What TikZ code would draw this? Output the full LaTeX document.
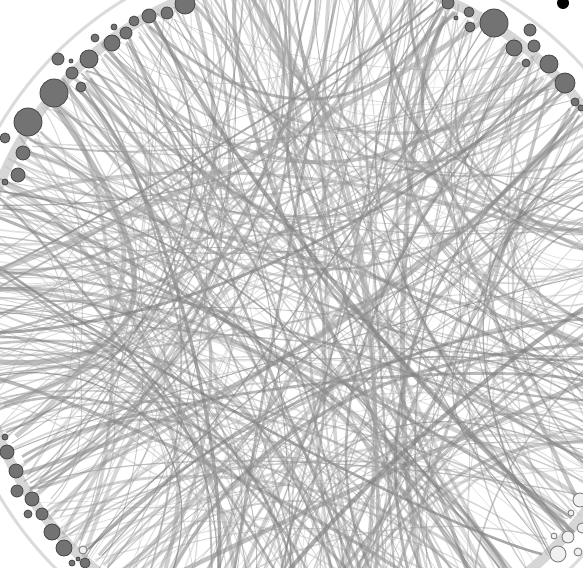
\documentclass[tikz,border=0pt]{standalone}
\begin{document}
\begin{tikzpicture}[x=1pt,y=-1pt,
  ringnode/.style={fill=black!55,draw=black!72,line width=0.8pt},
  palenode/.style={fill=black!6,draw=black!50,line width=0.9pt}]
\useasboundingbox (0,0) rectangle (583,567);
\fill[white] (0,0) rectangle (583,567);
\clip (0,0) rectangle (583,567);
\coordinate (C) at (313,311);
% faint outer ring
\draw[black!14,line width=3pt] (C) circle[radius=364pt];
\draw[black!16,line width=10pt] (C) circle[radius=338pt];
% light thin edges
\pgfmathsetseed{2024}
\foreach \i in {1,...,180}{
  \pgfmathsetmacro\aa{rnd*360}
  \pgfmathsetmacro\bb{\aa+35+rnd*290}
  \pgfmathsetmacro\ra{325+rnd*18}
  \pgfmathsetmacro\rb{325+rnd*18}
  \pgfmathsetmacro\qa{rnd*360}
  \pgfmathsetmacro\qr{rnd*220}
  \pgfmathsetmacro\k{0.2+rnd*0.5}
  \pgfmathsetmacro\xa{313+\ra*cos(\aa)}
  \pgfmathsetmacro\ya{311+\ra*sin(\aa)}
  \pgfmathsetmacro\xb{313+\rb*cos(\bb)}
  \pgfmathsetmacro\yb{311+\rb*sin(\bb)}
  \pgfmathsetmacro\qx{313+\qr*cos(\qa)}
  \pgfmathsetmacro\qy{311+\qr*sin(\qa)}
  \pgfmathsetmacro\cxa{\xa+\k*(\qx-\xa)}
  \pgfmathsetmacro\cya{\ya+\k*(\qy-\ya)}
  \pgfmathsetmacro\cxb{\xb+\k*(\qx-\xb)}
  \pgfmathsetmacro\cyb{\yb+\k*(\qy-\yb)}
  \pgfmathsetmacro\w{0.5+1.2*rnd}
  \pgfmathsetmacro\op{0.35+0.3*rnd}
  \draw[line width=\w pt,draw=black!28,draw opacity=\op]
    (\xa,\ya) .. controls (\cxa,\cya) and (\cxb,\cyb) .. (\xb,\yb);
}
% main edges
\pgfmathsetseed{4711}
\foreach \i in {1,...,230}{
  \pgfmathsetmacro\aa{rnd*360}
  \pgfmathsetmacro\bb{\aa+45+rnd*270}
  \pgfmathsetmacro\ra{322+rnd*20}
  \pgfmathsetmacro\rb{322+rnd*20}
  \pgfmathsetmacro\qa{rnd*360}
  \pgfmathsetmacro\qr{rnd*200}
  \pgfmathsetmacro\k{0.25+rnd*0.5}
  \pgfmathsetmacro\xa{313+\ra*cos(\aa)}
  \pgfmathsetmacro\ya{311+\ra*sin(\aa)}
  \pgfmathsetmacro\xb{313+\rb*cos(\bb)}
  \pgfmathsetmacro\yb{311+\rb*sin(\bb)}
  \pgfmathsetmacro\qx{313+\qr*cos(\qa)}
  \pgfmathsetmacro\qy{311+\qr*sin(\qa)}
  \pgfmathsetmacro\cxa{\xa+\k*(\qx-\xa)}
  \pgfmathsetmacro\cya{\ya+\k*(\qy-\ya)}
  \pgfmathsetmacro\cxb{\xb+\k*(\qx-\xb)}
  \pgfmathsetmacro\cyb{\yb+\k*(\qy-\yb)}
  \pgfmathsetmacro\w{0.8+5*rnd*rnd}
  \pgfmathtruncatemacro\g{34+20*rnd}
  \pgfmathsetmacro\op{0.35+0.3*rnd}
  \draw[line width=\w pt,draw=black!\g,draw opacity=\op]
    (\xa,\ya) .. controls (\cxa,\cya) and (\cxb,\cyb) .. (\xb,\yb);
}
% ring nodes
\foreach \x/\y/\r in {185/4/10,167/13/6,149/16/7,134/21/5,114/27/3,126/33/6,112/43/8,95/38/4,89/59/9,71/61/2,58/59/6,72/73/6,81/87/5,54/93/14,28/122/14,5/138/5,23/153/7,18/175/7,5/182/3,
  448/3/6,469/12/5,456/18/2,470/27/5,494/23/14,530/30/6,514/48/8,534/46/6,526/63/4,549/64/9,565/83/10,575/102/4,581/108/3,
  5/437/3,7/452/7,16/471/7,17/491/6,32/499/7,28/514/4,42/514/6,52/532/8,64/548/8,78/559/2,85/563/5,72/563/3}
  \draw[ringnode] (\x,\y) circle[radius=\r pt];
\foreach \x/\y/\r in {83/550/4,568/537/6,582/528/5,554/536/3,558/554/8,578/552/4,571/513/3,580/500/7}
  \draw[palenode] (\x,\y) circle[radius=\r pt];
\fill[black] (563,3) circle[radius=6pt];
\end{tikzpicture}
\end{document}
